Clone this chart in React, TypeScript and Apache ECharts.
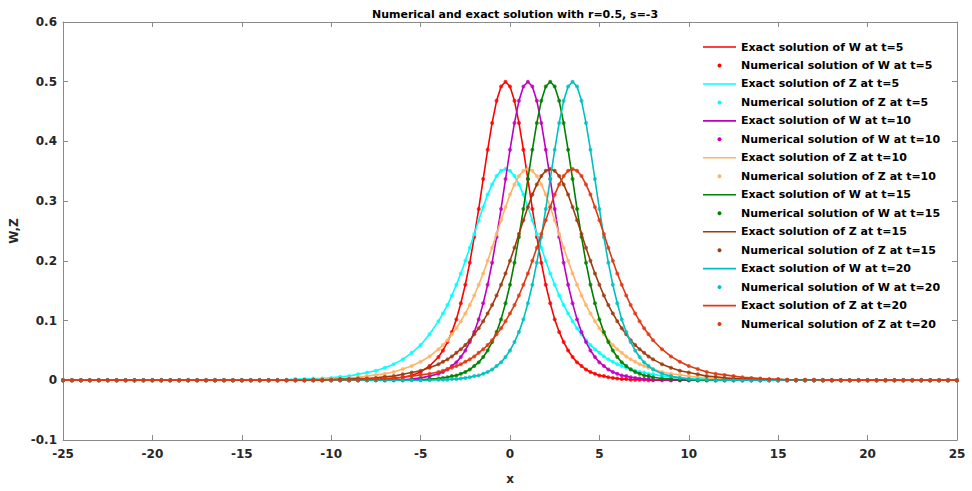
import { useEffect, useRef } from "react";
import * as echarts from "echarts";

// shared x grid (coarser in the flat tails, finer where the curves rise)
const X = [
  -25, -24.5, -24, -23.5, -23, -22.5, -22, -21.5, -21, -20.5, -20, -19.5, -19, -18.5, -18, -17.5,
  -17, -16.5, -16, -15.5, -15, -14.5, -14, -13.5, -13, -12.5, -12, -11.5, -11, -10.5, -10, -9.5,
  -9, -8.5, -8, -7.5, -7, -6.5, -6, -5.5, -5, -4.5, -4,
  -3.75, -3.5, -3.25, -3, -2.75, -2.5, -2.25, -2, -1.75, -1.5, -1.25, -1, -0.75, -0.5, -0.25,
  0, 0.25, 0.5, 0.75, 1, 1.25, 1.5, 1.75, 2, 2.25, 2.5, 2.75, 3, 3.25, 3.5, 3.75,
  4, 4.25, 4.5, 4.75, 5, 5.25, 5.5, 5.75, 6, 6.25, 6.5, 6.75, 7, 7.25, 7.5, 7.75,
  8, 8.5, 9, 9.5, 10, 10.5, 11, 11.5, 12, 12.5, 13, 13.5, 14, 14.5, 15, 15.5,
  16, 16.5, 17, 17.5, 18, 18.5, 19, 19.5, 20, 20.5, 21, 21.5, 22, 22.5, 23, 23.5,
  24, 24.5, 25,
];

const W_T5 = [
  0, 0, 0, 0, 0, 0, 0, 0, 0, 0, 0, 0, 0, 0, 0, 0,
  0, 0, 0, 0, 0, 0, 0, 0, 0, 0, 0, 0, 0, 0, 0, 0,
  0, 0, 0.001, 0.001, 0.002, 0.003, 0.005, 0.008, 0.014, 0.024, 0.039,
  0.050, 0.064, 0.081, 0.102, 0.129, 0.160, 0.197, 0.240, 0.287, 0.337, 0.386, 0.431, 0.468, 0.492, 0.500,
  0.492, 0.468, 0.431, 0.386, 0.337, 0.287, 0.240, 0.197, 0.160, 0.129, 0.102, 0.081, 0.064, 0.050, 0.039, 0.030,
  0.024, 0.018, 0.014, 0.011, 0.008, 0.007, 0.005, 0.004, 0.003, 0.002, 0.002, 0.001, 0.001, 0.001, 0.001, 0,
  0, 0, 0, 0, 0, 0, 0, 0, 0, 0, 0, 0, 0, 0, 0, 0,
  0, 0, 0, 0, 0, 0, 0, 0, 0, 0, 0, 0, 0, 0, 0, 0,
  0, 0, 0,
];
const Z_T5 = [
  0, 0, 0, 0, 0, 0, 0, 0, 0, 0, 0, 0, 0, 0, 0, 0,
  0, 0, 0, 0, 0, 0, 0, 0.001, 0.001, 0.001, 0.002, 0.002, 0.003, 0.003, 0.004, 0.006,
  0.007, 0.010, 0.013, 0.016, 0.021, 0.027, 0.035, 0.046, 0.059, 0.077, 0.099,
  0.112, 0.126, 0.142, 0.160, 0.179, 0.200, 0.222, 0.245, 0.268, 0.290, 0.311, 0.328, 0.342, 0.351, 0.354,
  0.351, 0.342, 0.328, 0.311, 0.290, 0.268, 0.245, 0.222, 0.200, 0.179, 0.160, 0.142, 0.126, 0.112, 0.099, 0.087,
  0.077, 0.067, 0.059, 0.052, 0.046, 0.040, 0.035, 0.031, 0.027, 0.024, 0.021, 0.019, 0.016, 0.014, 0.013, 0.011,
  0.010, 0.007, 0.006, 0.004, 0.003, 0.003, 0.002, 0.002, 0.001, 0.001, 0.001, 0, 0, 0, 0, 0,
  0, 0, 0, 0, 0, 0, 0, 0, 0, 0, 0, 0, 0, 0, 0, 0,
  0, 0, 0,
];
const W_T10 = [
  0, 0, 0, 0, 0, 0, 0, 0, 0, 0, 0, 0, 0, 0, 0, 0,
  0, 0, 0, 0, 0, 0, 0, 0, 0, 0, 0, 0, 0, 0, 0, 0,
  0, 0, 0, 0, 0, 0.001, 0.001, 0.002, 0.004, 0.007, 0.011,
  0.014, 0.018, 0.024, 0.030, 0.039, 0.050, 0.064, 0.081, 0.102, 0.129, 0.160, 0.197, 0.240, 0.287, 0.337,
  0.386, 0.431, 0.468, 0.492, 0.500, 0.492, 0.468, 0.431, 0.386, 0.337, 0.287, 0.240, 0.197, 0.160, 0.129, 0.102,
  0.081, 0.064, 0.050, 0.039, 0.030, 0.024, 0.018, 0.014, 0.011, 0.008, 0.007, 0.005, 0.004, 0.003, 0.002, 0.002,
  0.001, 0.001, 0, 0, 0, 0, 0, 0, 0, 0, 0, 0, 0, 0, 0, 0,
  0, 0, 0, 0, 0, 0, 0, 0, 0, 0, 0, 0, 0, 0, 0, 0,
  0, 0, 0,
];
const Z_T10 = [
  0, 0, 0, 0, 0, 0, 0, 0, 0, 0, 0, 0, 0, 0, 0, 0,
  0, 0, 0, 0, 0, 0, 0, 0, 0, 0.001, 0.001, 0.001, 0.001, 0.002, 0.002, 0.003,
  0.004, 0.005, 0.007, 0.009, 0.011, 0.014, 0.019, 0.024, 0.031, 0.040, 0.052,
  0.059, 0.067, 0.077, 0.087, 0.099, 0.112, 0.126, 0.142, 0.160, 0.179, 0.200, 0.222, 0.245, 0.268, 0.290,
  0.311, 0.328, 0.342, 0.351, 0.354, 0.351, 0.342, 0.328, 0.311, 0.290, 0.268, 0.245, 0.222, 0.200, 0.179, 0.160,
  0.142, 0.126, 0.112, 0.099, 0.087, 0.077, 0.067, 0.059, 0.052, 0.046, 0.040, 0.035, 0.031, 0.027, 0.024, 0.021,
  0.019, 0.014, 0.011, 0.009, 0.007, 0.005, 0.004, 0.003, 0.002, 0.002, 0.001, 0.001, 0.001, 0.001, 0, 0,
  0, 0, 0, 0, 0, 0, 0, 0, 0, 0, 0, 0, 0, 0, 0, 0,
  0, 0, 0,
];
const W_T15 = [
  0, 0, 0, 0, 0, 0, 0, 0, 0, 0, 0, 0, 0, 0, 0, 0,
  0, 0, 0, 0, 0, 0, 0, 0, 0, 0, 0, 0, 0, 0, 0, 0,
  0, 0, 0, 0, 0, 0, 0, 0.001, 0.001, 0.002, 0.003,
  0.004, 0.005, 0.007, 0.008, 0.011, 0.014, 0.018, 0.024, 0.030, 0.039, 0.050, 0.064, 0.081, 0.102, 0.129,
  0.160, 0.197, 0.240, 0.287, 0.337, 0.386, 0.431, 0.468, 0.492, 0.500, 0.492, 0.468, 0.431, 0.386, 0.337, 0.287,
  0.240, 0.197, 0.160, 0.129, 0.102, 0.081, 0.064, 0.050, 0.039, 0.030, 0.024, 0.018, 0.014, 0.011, 0.008, 0.007,
  0.005, 0.003, 0.002, 0.001, 0.001, 0, 0, 0, 0, 0, 0, 0, 0, 0, 0, 0,
  0, 0, 0, 0, 0, 0, 0, 0, 0, 0, 0, 0, 0, 0, 0, 0,
  0, 0, 0,
];
const Z_T15 = [
  0, 0, 0, 0, 0, 0, 0, 0, 0, 0, 0, 0, 0, 0, 0, 0,
  0, 0, 0, 0, 0, 0, 0, 0, 0, 0, 0, 0, 0.001, 0.001, 0.001, 0.002,
  0.002, 0.003, 0.003, 0.004, 0.006, 0.007, 0.010, 0.013, 0.016, 0.021, 0.027,
  0.031, 0.035, 0.040, 0.046, 0.052, 0.059, 0.067, 0.077, 0.087, 0.099, 0.112, 0.126, 0.142, 0.160, 0.179,
  0.200, 0.222, 0.245, 0.268, 0.290, 0.311, 0.328, 0.342, 0.351, 0.354, 0.351, 0.342, 0.328, 0.311, 0.290, 0.268,
  0.245, 0.222, 0.200, 0.179, 0.160, 0.142, 0.126, 0.112, 0.099, 0.087, 0.077, 0.067, 0.059, 0.052, 0.046, 0.040,
  0.035, 0.027, 0.021, 0.016, 0.013, 0.010, 0.007, 0.006, 0.004, 0.003, 0.003, 0.002, 0.002, 0.001, 0.001, 0.001,
  0, 0, 0, 0, 0, 0, 0, 0, 0, 0, 0, 0, 0, 0, 0, 0,
  0, 0, 0,
];
const W_T20 = [
  0, 0, 0, 0, 0, 0, 0, 0, 0, 0, 0, 0, 0, 0, 0, 0,
  0, 0, 0, 0, 0, 0, 0, 0, 0, 0, 0, 0, 0, 0, 0, 0,
  0, 0, 0, 0, 0, 0, 0, 0, 0, 0, 0.001,
  0.001, 0.001, 0.002, 0.002, 0.003, 0.004, 0.005, 0.007, 0.008, 0.011, 0.014, 0.018, 0.024, 0.030, 0.039,
  0.050, 0.064, 0.081, 0.102, 0.129, 0.160, 0.197, 0.240, 0.287, 0.337, 0.386, 0.431, 0.468, 0.492, 0.500, 0.492,
  0.468, 0.431, 0.386, 0.337, 0.287, 0.240, 0.197, 0.160, 0.129, 0.102, 0.081, 0.064, 0.050, 0.039, 0.030, 0.024,
  0.018, 0.011, 0.007, 0.004, 0.002, 0.001, 0.001, 0, 0, 0, 0, 0, 0, 0, 0, 0,
  0, 0, 0, 0, 0, 0, 0, 0, 0, 0, 0, 0, 0, 0, 0, 0,
  0, 0, 0,
];
const Z_T20 = [
  0, 0, 0, 0, 0, 0, 0, 0, 0, 0, 0, 0, 0, 0, 0, 0,
  0, 0, 0, 0, 0, 0, 0, 0, 0, 0, 0, 0, 0, 0, 0.001, 0.001,
  0.001, 0.001, 0.002, 0.002, 0.003, 0.004, 0.005, 0.007, 0.009, 0.011, 0.014,
  0.016, 0.019, 0.021, 0.024, 0.027, 0.031, 0.035, 0.040, 0.046, 0.052, 0.059, 0.067, 0.077, 0.087, 0.099,
  0.112, 0.126, 0.142, 0.160, 0.179, 0.200, 0.222, 0.245, 0.268, 0.290, 0.311, 0.328, 0.342, 0.351, 0.354, 0.351,
  0.342, 0.328, 0.311, 0.290, 0.268, 0.245, 0.222, 0.200, 0.179, 0.160, 0.142, 0.126, 0.112, 0.099, 0.087, 0.077,
  0.067, 0.052, 0.040, 0.031, 0.024, 0.019, 0.014, 0.011, 0.009, 0.007, 0.005, 0.004, 0.003, 0.002, 0.002, 0.001,
  0.001, 0.001, 0.001, 0, 0, 0, 0, 0, 0, 0, 0, 0, 0, 0, 0, 0,
  0, 0, 0,
];

const CURVE_VARS = ["W", "Z", "W", "Z", "W", "Z", "W", "Z"];
const CURVE_TIMES = [5, 5, 10, 10, 15, 15, 20, 20];
const CURVE_VALUES = [W_T5, Z_T5, W_T10, Z_T10, W_T15, Z_T15, W_T20, Z_T20];
const CURVE_COLORS = ["#FF0000", "#00FFFF", "#BF00BF", "#FFB366", "#008000", "#9E3B0E", "#00BFBF", "#DD3A12"];

const TITLE = "Numerical and exact solution with r=0.5, s=-3";
const FONT = '"DejaVu Sans", "Liberation Sans", Arial, sans-serif';

export default function App() {
  const ref = useRef<HTMLDivElement | null>(null);

  useEffect(() => {
    if (!ref.current) return;
    const chart = echarts.init(ref.current, undefined, { renderer: "svg" });

    const series: any[] = [];
    const legendItems: { name: string; color: string; kind: "line" | "dot" }[] = [];
    CURVE_VALUES.forEach((ys, i) => {
      const pts = X.map((x, j) => [x, ys[j]]);
      const exactName = `Exact solution of ${CURVE_VARS[i]} at t=${CURVE_TIMES[i]}`;
      const numName = `Numerical solution of ${CURVE_VARS[i]} at t=${CURVE_TIMES[i]}`;
      const color = CURVE_COLORS[i];
      series.push({
        type: "line",
        name: exactName,
        data: pts,
        symbol: "none",
        lineStyle: { color, width: 1.6 },
        itemStyle: { color },
        z: 2 + i * 0.01,
        silent: true,
      });
      series.push({
        type: "scatter",
        name: numName,
        data: pts,
        symbol: "circle",
        symbolSize: 4,
        itemStyle: { color },
        z: 2 + i * 0.01 + 0.005,
        silent: true,
      });
      legendItems.push({ name: exactName, color, kind: "line" });
      legendItems.push({ name: numName, color, kind: "dot" });
    });

    const graphics: any[] = [];
    legendItems.forEach((it, i) => {
      const y = 47 + i * 18.47;
      if (it.kind === "line") {
        graphics.push({
          type: "line",
          shape: { x1: 703, y1: y, x2: 736, y2: y },
          style: { stroke: it.color, lineWidth: 1.6 },
          z: 10,
        });
      } else {
        graphics.push({
          type: "circle",
          shape: { cx: 719.5, cy: y, r: 2 },
          style: { fill: it.color },
          z: 10,
        });
      }
      graphics.push({
        type: "text",
        x: 741,
        y,
        style: {
          text: it.name,
          font: `bold 11px ${FONT}`,
          fill: "#000000",
          verticalAlign: "middle",
          align: "left",
        },
        z: 10,
      });
    });

    const axisColor = "#8a8a8a";
    const labelStyle = {
      fontFamily: FONT,
      fontWeight: "bold" as const,
      fontSize: 12,
      color: "#262626",
    };

    chart.setOption({
      animation: false,
      backgroundColor: "#ffffff",
      title: {
        text: TITLE,
        left: 510,
        top: 4,
        textAlign: "center",
        textStyle: { fontFamily: FONT, fontWeight: "bold", fontSize: 11, color: "#000000" },
      },
      grid: { left: 63, right: 15, top: 22, bottom: 51, containLabel: false, outerBoundsMode: "none" },
      xAxis: [
        {
          type: "value",
          min: -25,
          max: 25,
          interval: 5,
          position: "bottom",
          axisLine: { show: true, onZero: false, lineStyle: { color: axisColor, width: 1 } },
          axisTick: { show: true, inside: true, length: 5, lineStyle: { color: axisColor } },
          axisLabel: { ...labelStyle, margin: 8 },
          splitLine: { show: false },
          name: "x",
          nameLocation: "middle",
          nameGap: 33,
          nameTextStyle: { ...labelStyle, fontSize: 12 },
        },
        {
          type: "value",
          min: -25,
          max: 25,
          interval: 5,
          position: "top",
          axisLine: { show: true, onZero: false, lineStyle: { color: axisColor, width: 1 } },
          axisTick: { show: true, inside: true, length: 5, lineStyle: { color: axisColor } },
          axisLabel: { show: false },
          splitLine: { show: false },
        },
      ],
      yAxis: [
        {
          type: "value",
          min: -0.1,
          max: 0.6,
          interval: 0.1,
          position: "left",
          axisLine: { show: true, onZero: false, lineStyle: { color: axisColor, width: 1 } },
          axisTick: { show: true, inside: true, length: 5, lineStyle: { color: axisColor } },
          axisLabel: {
            ...labelStyle,
            margin: 6,
            formatter: (v: number) => String(Math.round(v * 10) / 10),
          },
          splitLine: { show: false },
          name: "W,Z",
          nameLocation: "middle",
          nameGap: 33,
          nameTextStyle: { ...labelStyle, fontSize: 12 },
        },
        {
          type: "value",
          min: -0.1,
          max: 0.6,
          interval: 0.1,
          position: "right",
          axisLine: { show: true, onZero: false, lineStyle: { color: axisColor, width: 1 } },
          axisTick: { show: true, inside: true, length: 5, lineStyle: { color: axisColor } },
          axisLabel: { show: false },
          splitLine: { show: false },
        },
      ],
      series,
      graphic: graphics,
    });

    return () => {
      chart.dispose();
    };
  }, []);

  return (
    <div
      ref={ref}
      style={{ position: "absolute", left: 0, top: 0, width: 972, height: 491 }}
    />
  );
}
